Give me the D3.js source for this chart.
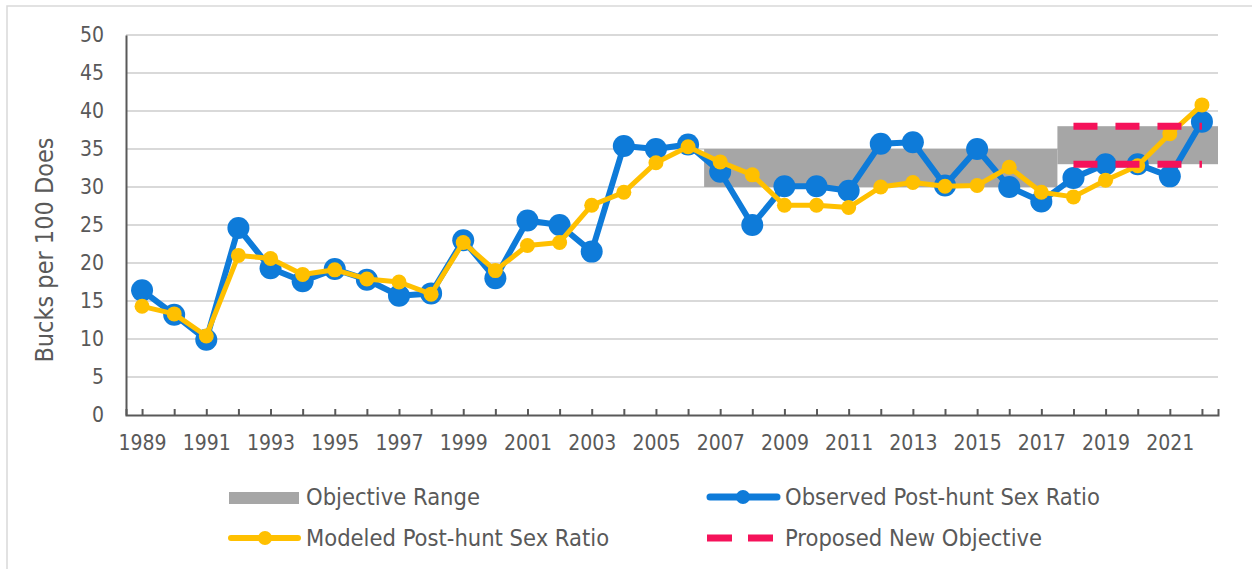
<!DOCTYPE html>
<html>
<head>
<meta charset="utf-8">
<script src="https://cdn.jsdelivr.net/npm/d3@7"></script>
<style>
    body { margin: 0; background: #ffffff; }
    svg { display: block; }
    text { font-family: "DejaVu Sans Condensed", "DejaVu Sans", sans-serif; fill: #595959; }
</style>
</head>
<body>
<svg id="chart"></svg>
<script>

/*Data*/
var years = [1989, 1990, 1991, 1992, 1993, 1994, 1995, 1996, 1997, 1998,
             1999, 2000, 2001, 2002, 2003, 2004, 2005, 2006, 2007, 2008,
             2009, 2010, 2011, 2012, 2013, 2014, 2015, 2016, 2017, 2018,
             2019, 2020, 2021, 2022];

var observed = [16.4, 13.2, 9.9, 24.6, 19.3, 17.6, 19.2, 17.8, 15.7, 16.0,
                23.0, 18.0, 25.6, 25.0, 21.5, 35.4, 35.0, 35.6, 32.0, 25.0,
                30.1, 30.1, 29.5, 35.7, 35.9, 30.2, 35.0, 30.0, 28.1, 31.2,
                33.0, 33.0, 31.4, 38.6];

var modeled = [14.3, 13.3, 10.4, 21.0, 20.6, 18.5, 19.1, 17.9, 17.5, 15.9,
               22.7, 19.0, 22.3, 22.7, 27.6, 29.3, 33.2, 35.3, 33.3, 31.6,
               27.6, 27.6, 27.3, 30.0, 30.6, 30.1, 30.2, 32.6, 29.3, 28.7,
               30.9, 32.8, 37.0, 40.8];

// Objective range blocks
var objFrom = [2007, 2018];
var objTo = [2017, 2022];
var objLow = [30, 33];
var objHigh = [35, 38];

// Proposed new objective (dashed)
var proposedYears = [2018, 2022];
var proposedLevels = [33, 38];

// Axis ticks
var yTicks = [0, 5, 10, 15, 20, 25, 30, 35, 40, 45, 50];
var xLabels = [1989, 1991, 1993, 1995, 1997, 1999, 2001, 2003, 2005, 2007,
               2009, 2011, 2013, 2015, 2017, 2019, 2021];

var legendNames = ["Objective Range", "Observed Post-hunt Sex Ratio",
                   "Modeled Post-hunt Sex Ratio", "Proposed New Objective"];

/*Sizes and colours*/
var svgwidth = 1252, svgheight = 569;
var margin = {top: 35, bottom: 154, left: 126, right: 34};
var width = svgwidth - margin.left - margin.right;
var height = svgheight - margin.top - margin.bottom;

var blue = "#0e7bd9", gold = "#ffc000", grey = "#a6a6a6", pink = "#f5125a";
var axisColour = "#595959", gridColour = "#d9d9d9";

var svg = d3.select("#chart")
    .attr("width", svgwidth)
    .attr("height", svgheight);

// chart frame
svg.append("rect")
    .attr("x", 7).attr("y", 6)
    .attr("width", svgwidth + 20).attr("height", svgheight + 20)
    .attr("fill", "none")
    .attr("stroke", gridColour)
    .attr("stroke-width", 1.5);

var g = svg.append("g")
    .attr("transform", "translate(" + margin.left + "," + margin.top + ")");

//Scales
var xScale = d3.scalePoint().domain(years).range([0, width]).padding(0.5);
var yScale = d3.scaleLinear().domain([0, 50]).range([height, 0]);
var step = xScale.step();

//Gridlines
g.append("g")
    .selectAll("line")
    .data(yTicks.slice(1))
    .enter()
    .append("line")
    .attr("x1", 0)
    .attr("x2", width)
    .attr("y1", function(d){ return yScale(d); })
    .attr("y2", function(d){ return yScale(d); })
    .attr("stroke", gridColour)
    .attr("stroke-width", 2);

//Objective range
g.append("g")
    .selectAll("rect")
    .data(objFrom)
    .enter()
    .append("rect")
    .attr("x", function(d, i){ return xScale(d) - step / 2; })
    .attr("width", function(d, i){ return xScale(objTo[i]) - xScale(d) + step; })
    .attr("y", function(d, i){ return yScale(objHigh[i]); })
    .attr("height", function(d, i){ return yScale(objLow[i]) - yScale(objHigh[i]); })
    .attr("fill", grey);

//Axis
var xAxis = d3.axisBottom(xScale)
    .tickSizeInner(-6)
    .tickSizeOuter(-6)
    .tickPadding(20)
    .tickFormat(function(d){ return xLabels.indexOf(d) >= 0 ? d : ""; });

var yAxis = d3.axisLeft(yScale)
    .tickValues(yTicks)
    .tickSize(0)
    .tickPadding(22);

var xg = g.append("g")
    .attr("class", "xAxis")
    .attr("transform", "translate(0," + height + ")")
    .call(xAxis);

var yg = g.append("g")
    .attr("class", "yAxis")
    .call(yAxis);

xg.selectAll("path, line").attr("stroke", axisColour).attr("stroke-width", 2);
yg.select("path").attr("stroke", axisColour).attr("stroke-width", 2);
xg.selectAll("text").attr("font-size", 21).attr("fill", axisColour)
    .style("font-family", "'DejaVu Sans Condensed', 'DejaVu Sans', sans-serif");
yg.selectAll("text").attr("font-size", 21).attr("fill", axisColour)
    .style("font-family", "'DejaVu Sans Condensed', 'DejaVu Sans', sans-serif");

// axis title
svg.append("text")
    .attr("transform", "translate(53,250) rotate(-90)")
    .attr("text-anchor", "middle")
    .attr("font-size", 25)
    .text("Bucks per 100 Does");

//Series lines
function drawSeries(values, colour, lineWidth, radius) {
    var line = d3.line()
        .x(function(d, i){ return xScale(years[i]); })
        .y(function(d, i){ return yScale(d); });

    g.append("path")
        .datum(values)
        .attr("d", line)
        .attr("fill", "none")
        .attr("stroke", colour)
        .attr("stroke-width", lineWidth)
        .attr("stroke-linejoin", "round");

    g.append("g")
        .selectAll("circle")
        .data(values)
        .enter()
        .append("circle")
        .attr("cx", function(d, i){ return xScale(years[i]); })
        .attr("cy", function(d, i){ return yScale(d); })
        .attr("r", radius)
        .attr("fill", colour);
}

drawSeries(observed, blue, 6, 11);
drawSeries(modeled, gold, 5, 7.5);

//Proposed objective
g.append("g")
    .selectAll("line")
    .data(proposedLevels)
    .enter()
    .append("line")
    .attr("x1", xScale(proposedYears[0]))
    .attr("x2", xScale(proposedYears[1]))
    .attr("y1", function(d){ return yScale(d); })
    .attr("y2", function(d){ return yScale(d); })
    .attr("stroke", pink)
    .attr("stroke-width", 7)
    .attr("stroke-dasharray", "24,18");

//Legend
var legend = svg.append("g");

legend.append("rect")
    .attr("x", 229).attr("y", 492)
    .attr("width", 70).attr("height", 12)
    .attr("fill", grey);

legend.append("line")
    .attr("x1", 710).attr("x2", 777).attr("y1", 497).attr("y2", 497)
    .attr("stroke", blue).attr("stroke-width", 7).attr("stroke-linecap", "round");
legend.append("circle")
    .attr("cx", 743).attr("cy", 497).attr("r", 7).attr("fill", blue);

legend.append("line")
    .attr("x1", 231).attr("x2", 298).attr("y1", 538).attr("y2", 538)
    .attr("stroke", gold).attr("stroke-width", 6).attr("stroke-linecap", "round");
legend.append("circle")
    .attr("cx", 265).attr("cy", 538).attr("r", 7).attr("fill", gold);

legend.append("line")
    .attr("x1", 707).attr("x2", 775).attr("y1", 538).attr("y2", 538)
    .attr("stroke", pink).attr("stroke-width", 7)
    .attr("stroke-dasharray", "25,16");

var legendPos = [[306, 505], [785, 505], [306, 546], [785, 546]];
legend.selectAll("text.leg")
    .data(legendNames)
    .enter()
    .append("text")
    .attr("class", "leg")
    .attr("x", function(d, i){ return legendPos[i][0]; })
    .attr("y", function(d, i){ return legendPos[i][1]; })
    .attr("font-size", 23.5)
    .text(function(d){ return d; });

</script>
</body>
</html>
